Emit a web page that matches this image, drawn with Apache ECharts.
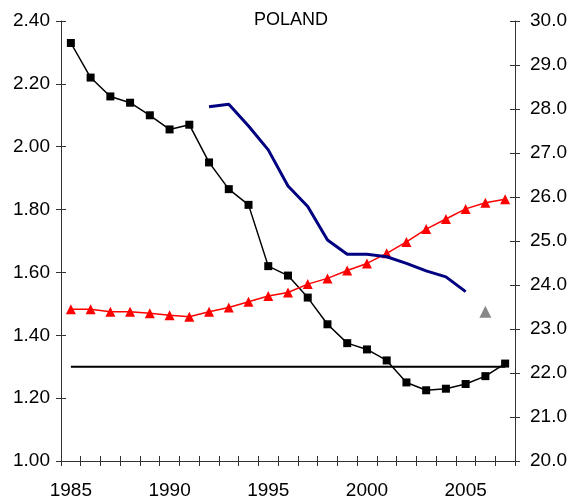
<!DOCTYPE html>
<html>
<head>
<meta charset="utf-8">
<script src="https://cdn.jsdelivr.net/npm/echarts@6/dist/echarts.min.js"></script>
<style>html,body{margin:0;padding:0;background:#fff}#c{width:573px;height:502px}</style>
</head>
<body>
<div id="c"></div>
<script>
const years = ['1985','1986','1987','1988','1989','1990','1991','1992','1993','1994','1995','1996','1997','1998','1999','2000','2001','2002','2003','2004','2005','2006','2007'];
const tfr = [2.33,2.22,2.16,2.14,2.10,2.055,2.07,1.95,1.865,1.815,1.62,1.59,1.52,1.435,1.375,1.355,1.32,1.25,1.225,1.23,1.245,1.27,1.31];
const refLevel = [1.3,1.3,1.3,1.3,1.3,1.3,1.3,1.3,1.3,1.3,1.3,1.3,1.3,1.3,1.3,1.3,1.3,1.3,1.3,1.3,1.3,1.3,1.3];
const meanAgeFirstBirth = [23.45,23.45,23.39,23.39,23.36,23.31,23.28,23.39,23.49,23.62,23.75,23.83,24.02,24.15,24.33,24.49,24.72,24.98,25.27,25.5,25.73,25.87,25.95];
const adjTfr = [null,null,null,null,null,null,null,2.127,2.135,2.066,1.99,1.875,1.81,1.703,1.658,1.658,1.65,1.629,1.605,1.586,1.539,null,null];
const adjTfrAlt = [null,null,null,null,null,null,null,null,null,null,null,null,null,null,null,null,null,null,null,null,null,1.475,null];
const leftTicks = {min:1, max:2.4, interval:0.2};
const rightTicks = {min:20, max:30, interval:1};

const font = 'Liberation Sans, Arial, sans-serif';
const axisColor = '#333';
const chart = echarts.init(document.getElementById('c'));
function yAx(pos, t, fmt, inside, show) {
  return {
    type:'value', position:pos, min:t.min, max:t.max, interval:t.interval,
    splitLine:{show:false},
    axisLine:{show:show, lineStyle:{color:axisColor, width:1}},
    axisTick:{show:true, inside:inside, length:5, lineStyle:{color:axisColor}},
    axisLabel:{show:show, formatter:v=>v.toFixed(fmt), color:'#000', fontSize:19, fontFamily:font, margin: pos==='left'?11:15}
  };
}
chart.setOption({
  animation:false,
  title:{text:'POLAND', left:286, textAlign:'center', top:6, textStyle:{fontSize:18, fontWeight:'normal', color:'#000', fontFamily:font}},
  grid:{left:61, right:58, top:21, bottom:41, containLabel:false},
  xAxis:[{
    type:'category', data:years, boundaryGap:true, position:'bottom',
    axisLine:{show:true, onZero:false, lineStyle:{color:axisColor}},
    axisTick:{show:true, interval:0, length:5, lineStyle:{color:axisColor}},
    axisLabel:{interval:4, color:'#000', fontSize:19, fontFamily:font, margin:20},
    splitLine:{show:false}
  },{
    type:'category', data:years, boundaryGap:true, position:'bottom',
    axisLine:{show:false, onZero:false},
    axisTick:{show:true, inside:true, interval:0, length:5, lineStyle:{color:axisColor}},
    axisLabel:{show:false}, splitLine:{show:false}
  }],
  yAxis:[
    yAx('left', leftTicks, 2, false, true),
    yAx('right', rightTicks, 1, false, true),
    yAx('left', leftTicks, 2, true, false),
    yAx('right', rightTicks, 1, true, false)
  ],
  series:[
    {type:'line', data:refLevel, yAxisIndex:0, symbol:'none', lineStyle:{color:'#000', width:2}, z:2},
    {type:'line', data:tfr, yAxisIndex:0, symbol:'rect', symbolSize:8, itemStyle:{color:'#000'}, lineStyle:{color:'#000', width:1.5}, z:3},
    {type:'line', data:meanAgeFirstBirth, yAxisIndex:1, symbol:'triangle', symbolSize:10, itemStyle:{color:'#ff0000'}, lineStyle:{color:'#ff0000', width:1.5}, z:3},
    {type:'line', data:adjTfr, yAxisIndex:0, symbol:'none', connectNulls:false, lineStyle:{color:'#000080', width:3}, z:4},
    {type:'line', data:adjTfrAlt, yAxisIndex:0, symbol:'triangle', symbolSize:12, itemStyle:{color:'#888888'}, lineStyle:{width:0}, z:4}
  ]
});
</script>
</body>
</html>
